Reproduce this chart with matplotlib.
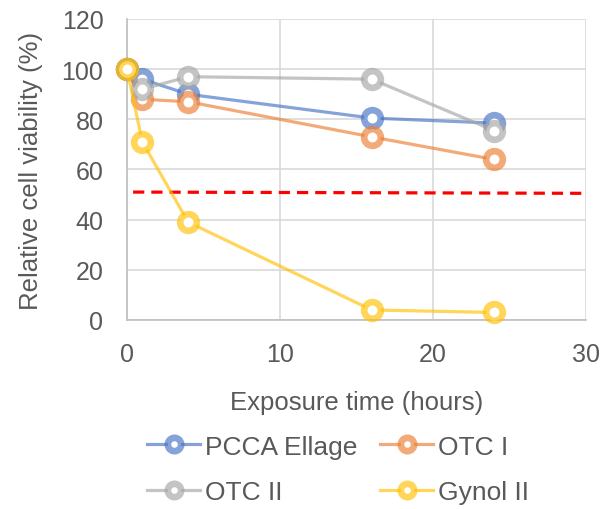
import matplotlib.pyplot as plt
from matplotlib.colors import to_rgba

hours = [0, 1, 4, 16, 24]
pcca_ellage = [100, 96, 90, 80.5, 78.5]
otc_1 = [100, 88, 87, 73, 64]
otc_2 = [100, 92, 97, 96, 75.5]
gynol_2 = [100, 71, 39, 4, 3]
threshold_x = [0.4, 30]
threshold_y = [51, 50.5]

series = [("PCCA Ellage", pcca_ellage, "#4472C4"),
          ("OTC I", otc_1, "#ED7D31"),
          ("OTC II", otc_2, "#A5A5A5"),
          ("Gynol II", gynol_2, "#FFC000")]

plt.rcParams['font.family'] = ['Liberation Sans', 'DejaVu Sans']
txt = "#595959"

fig = plt.figure(figsize=(6.03, 5.10), dpi=100)
ax = fig.add_axes([0.2106, 0.3706, 0.761, 0.5902])

handles = {}
for label, vals, col in series:
    c = to_rgba(col, 0.65)
    h, = ax.plot(hours, vals, color=c, lw=2.3, marker="o",
                 markersize=12, markeredgewidth=4.8, markerfacecolor="white",
                 markeredgecolor=c, label=label, zorder=3, clip_on=False)
    handles[label] = h

ax.plot(threshold_x, threshold_y, color="#FF0000", ls=(0, (3.5, 2.2)), lw=2.3, zorder=2)

ax.set_xlim(0, 30)
ax.set_ylim(0, 120)
ax.set_xticks([0, 10, 20, 30])
ax.set_yticks(range(0, 121, 20))
ax.grid(True, color="#D9D9D9", lw=1.2)
ax.set_axisbelow(True)
for s in ["top", "right"]:
    ax.spines[s].set_visible(False)
for s in ["left", "bottom"]:
    ax.spines[s].set_color("#BFBFBF")
    ax.spines[s].set_linewidth(1.2)
ax.tick_params(length=0, labelsize=18, colors=txt)
ax.tick_params(axis="y", pad=17)
ax.tick_params(axis="x", pad=16)
ax.set_xlabel("Exposure time (hours)", fontsize=18.5, color=txt, labelpad=17)
ax.set_ylabel("Relative cell viability (%)", fontsize=18.5, color=txt, labelpad=13)

order = ["PCCA Ellage", "OTC II", "OTC I", "Gynol II"]
fig.legend([handles[k] for k in order], order, loc="center",
           bbox_to_anchor=(0.561, 0.078), ncol=2, frameon=False,
           fontsize=19, labelcolor=txt, handlelength=2.0, columnspacing=0.85,
           handletextpad=0.2, labelspacing=0.8, markerscale=0.8)

fig.savefig("out.png", dpi=100)
